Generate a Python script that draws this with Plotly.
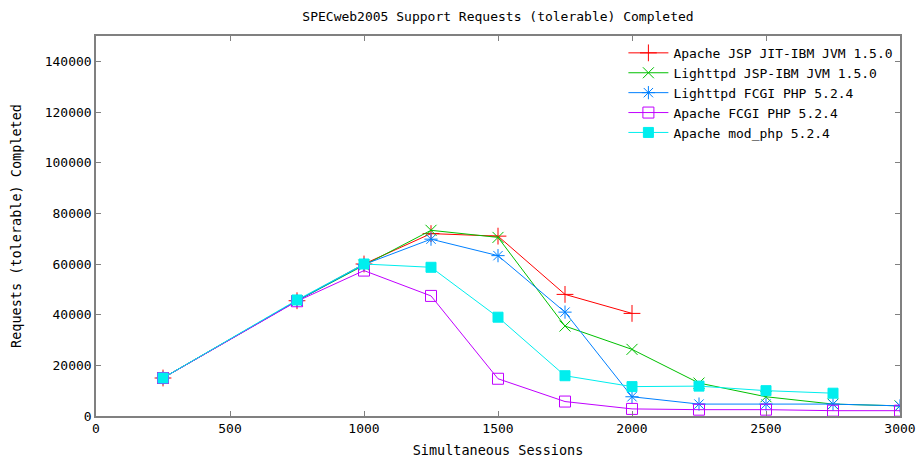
import plotly.graph_objects as go

sessions = [250, 750, 1000, 1250, 1500, 1750, 2000, 2250, 2500, 2750, 3000]

apache_jsp = [15000, 45500, 60000, 72000, 71000, 48000, 40500]
lighttpd_jsp = [15000, 45500, 59500, 73300, 70500, 35500, 26300, 13000, 7600, 4700, 4000]
lighttpd_fcgi = [15000, 45500, 59800, 69800, 63300, 41000, 7600, 4700, 4700, 4700, 4000]
apache_fcgi = [15000, 45300, 57400, 47400, 14700, 5700, 2800, 2500, 2500, 2100, 2100]
apache_modphp = [15000, 45800, 60000, 58700, 39000, 15900, 11600, 11800, 10000, 9000]

series = [
    ("Apache JSP JIT-IBM JVM 1.5.0", apache_jsp, "#ff0000", "cross-thin-open", 12),
    ("Lighttpd JSP-IBM JVM 1.5.0", lighttpd_jsp, "#00c000", "x-thin-open", 11),
    ("Lighttpd FCGI PHP 5.2.4", lighttpd_fcgi, "#0080ff", "asterisk-open", 11),
    ("Apache FCGI PHP 5.2.4", apache_fcgi, "#c000ff", "square-open", 11),
    ("Apache mod_php 5.2.4", apache_modphp, "#00eeee", "square", 10),
]

font = "DejaVu Sans Mono"
fig = go.Figure()
for name, vals, color, sym, size in series:
    fig.add_trace(go.Scatter(
        x=sessions[:len(vals)], y=vals, name=name, mode="lines+markers",
        line=dict(color=color, width=1),
        marker=dict(symbol=sym, size=size, color=color,
                    line=dict(color=color, width=1)),
    ))

axis_common = dict(showline=True, linecolor="#808080", linewidth=1.5, mirror="ticks",
                   ticks="inside", ticklen=5, tickcolor="#808080", showgrid=False,
                   zeroline=False, automargin=False,
                   tickfont=dict(family=font, size=13, color="black"))

fig.update_layout(
    width=922, height=459,
    paper_bgcolor="white", plot_bgcolor="white",
    margin=dict(l=96, r=22, t=36, b=43),
    font=dict(family=font, size=13, color="black"),
    title=dict(text="SPECweb2005 Support Requests (tolerable) Completed",
               x=0.5, xref="paper", xanchor="center", y=0.965, yanchor="middle",
               font=dict(family=font, size=13, color="black")),
    xaxis=dict(range=[0, 3000], dtick=500, tickformat="d",
               title=dict(text="Simultaneous Sessions", standoff=10,
                          font=dict(family=font, size=13.5)), **axis_common),
    yaxis=dict(range=[0, 150000], dtick=20000, tickformat="d",
               title=dict(text="Requests (tolerable) Completed", standoff=20,
                          font=dict(family=font, size=13.5)), **axis_common),
    legend=dict(x=0.998, y=0.995, xanchor="right", yanchor="top",
                bgcolor="rgba(0,0,0,0)", font=dict(family=font, size=13),
                tracegroupgap=0, itemwidth=40),
)

fig.write_html("out.html", config={"displayModeBar": False},
               post_script="document.body.style.margin='0';")
